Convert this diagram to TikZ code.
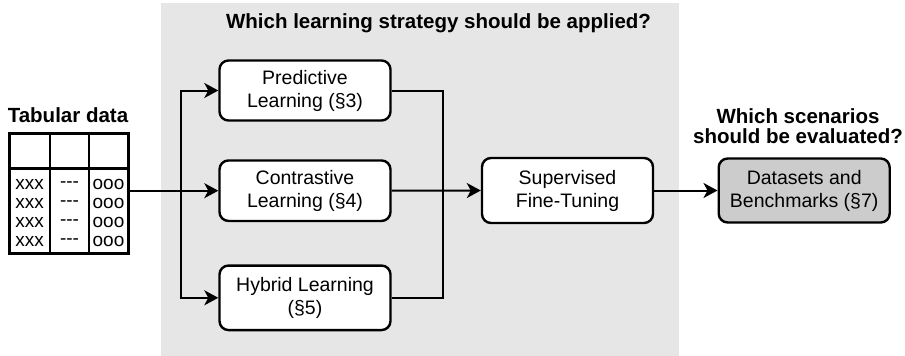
\documentclass[tikz,border=0pt]{standalone}
\usepackage{fontspec}
\setmainfont{Liberation Sans}
\usetikzlibrary{arrows.meta}
\definecolor{bggray}{HTML}{E6E6E6}
\definecolor{boxgray}{HTML}{CCCCCC}
\begin{document}
\begin{tikzpicture}[x=1pt,y=-1pt,
  stagebox/.style={draw=black, line width=2.4pt, rounded corners=9pt, fill=white,
    minimum width=171pt, align=center, inner sep=0pt,
    font=\fontsize{19.5}{23}\selectfont},
  headtxt/.style={font=\fontsize{20.5}{19.5}\selectfont\bfseries, inner sep=0pt, align=center},
  celltxt/.style={font=\fontsize{19}{19}\selectfont, inner sep=0pt, align=center},
  conn/.style={line width=2pt},
  arr/.style={conn, -{Stealth[length=14pt, width=15pt, inset=4pt]}}]
\useasboundingbox (0,0) rectangle (905,356);
% background
\fill[bggray] (161,3) rectangle (679,356);
% titles
\node[headtxt, anchor=base] (title) at (438.5,28.5) {Which learning strategy should be applied?};
\node[headtxt, anchor=base] (tabtitle) at (68,122.7) {Tabular data};
\node[headtxt] (sctitle) at (798,126) {Which scenarios\\should be evaluated?};
% table
\node[draw=black, line width=2.4pt, minimum width=119pt, minimum height=120pt, inner sep=0pt] (table) at (68.8,193.3) {};
\draw[line width=2.4pt] (9.3,168.3) -- (128.3,168.3);
\draw[line width=2.4pt] (50,133.3) -- (50,253.3);
\draw[line width=2.4pt] (89,133.3) -- (89,253.3);
\node[celltxt] (c1) at (29.7,213) {xxx\\xxx\\xxx\\xxx};
\node[celltxt] (c2) at (69.5,213) {-{}-{}-\\-{}-{}-\\-{}-{}-\\-{}-{}-};
\node[celltxt] (c3) at (108.5,213) {ooo\\ooo\\ooo\\ooo};
% boxes
\node[stagebox, minimum height=60pt] (pred) at (305,90.5) {Predictive\\Learning (\S3)};
\node[stagebox, minimum height=60.5pt] (contr) at (305,190.7) {Contrastive\\Learning (\S4)};
\node[stagebox, minimum height=64.5pt] (hyb) at (305,297.8) {Hybrid Learning\\(\S5)};
\node[stagebox, minimum height=65pt] (sup) at (567.5,190.5) {Supervised\\Fine-Tuning};
\node[stagebox, fill=boxgray, minimum height=64pt] (data) at (804.2,190.5) {Datasets and\\Benchmarks (\S7)};
% connectors
\coordinate (jl) at (180.7,190.7);
\coordinate (jr) at (443.3,190.7);
\draw[arr] (table.east |- contr.west) -- (contr.west);
\draw[arr] (jl) |- (pred.west);
\draw[arr] (jl) |- (hyb.west);
\draw[conn] (pred.east) -| (jr);
\draw[conn] (hyb.east) -| (jr);
\draw[arr] (contr.east) -- (sup.west);
\draw[arr] (sup.east) -- (data.west);
\end{tikzpicture}
\end{document}
